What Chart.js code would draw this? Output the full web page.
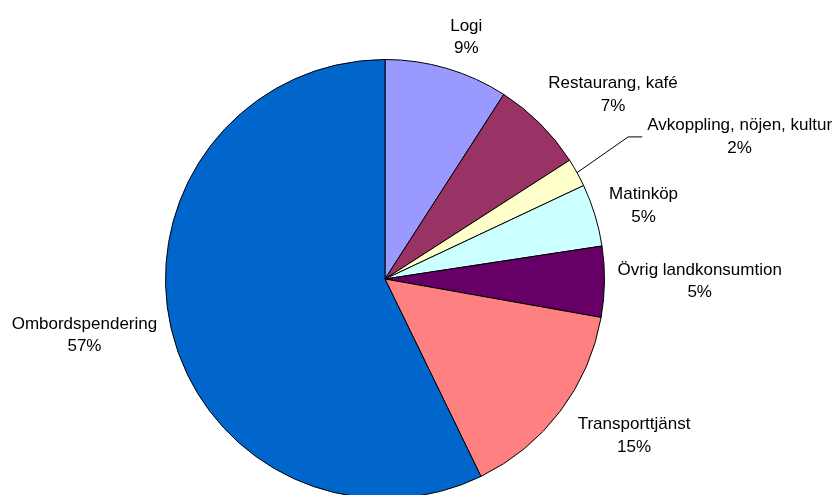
<!DOCTYPE html>
<html>
<head>
<meta charset="utf-8">
<script src="https://cdn.jsdelivr.net/npm/chart.js@4"></script>
<style>
  html, body { margin: 0; padding: 0; background: #fff; overflow: hidden; }
  #wrap { width: 833px; height: 510px; }
</style>
</head>
<body>
<div id="wrap"><canvas id="pie" width="833" height="510"></canvas></div>
<script>
const categories = ['Logi', 'Restaurang, kafé', 'Avkoppling, nöjen, kultur', 'Matinköp', 'Övrig landkonsumtion', 'Transporttjänst', 'Ombordspendering'];
const shares = [9.1, 6.8, 2.1, 4.6, 5.2, 15.0, 57.2];
const sliceColors = ['#9999FF', '#993366', '#FFFFCC', '#CCFFFF', '#660066', '#FF8080', '#0066CC'];

// small hand nudges so labels sit where Excel put them
const labelNudge = [[12, 0], [20, -6], [73, -20], [6, 0], [3, -1], [21, 5], [-6, 0]];
const leaderLines = [false, false, true, false, false, false, false];

const pieLabels = {
  id: 'pieLabels',
  afterDraw(chart) {
    const ctx = chart.ctx;
    const meta = chart.getDatasetMeta(0);
    const data = chart.data.datasets[0].data;
    const total = data.reduce((a, b) => a + b, 0);
    const lineH = 22.5;
    const gap = 10;
    ctx.save();
    ctx.font = '17px "Liberation Sans", Arial, sans-serif';
    ctx.fillStyle = '#000';
    ctx.textAlign = 'center';
    ctx.textBaseline = 'middle';
    meta.data.forEach((arc, i) => {
      const { x, y, startAngle, endAngle, outerRadius } = arc.getProps(['x', 'y', 'startAngle', 'endAngle', 'outerRadius'], true);
      const mid = (startAngle + endAngle) / 2;
      const cos = Math.cos(mid), sin = Math.sin(mid);
      const lines = [chart.data.labels[i], Math.round(data[i] / total * 100) + '%'];
      const w = Math.max(...lines.map(t => ctx.measureText(t).width));
      const h = lineH * 2;
      const ax = x + (outerRadius + gap) * cos;
      const ay = y + (outerRadius + gap) * sin;
      const cx = ax + (w / 2) * cos + labelNudge[i][0];
      const cy = ay + (h / 2) * sin + labelNudge[i][1];
      lines.forEach((t, k) => ctx.fillText(t, cx, cy - lineH / 2 + k * lineH));
      if (leaderLines[i]) {
        const ex = cx - ctx.measureText(lines[0]).width / 2 - 5;
        ctx.beginPath();
        ctx.strokeStyle = '#000';
        ctx.lineWidth = 1;
        ctx.moveTo(x + outerRadius * cos, y + outerRadius * sin);
        ctx.lineTo(ex - 14, cy);
        ctx.lineTo(ex, cy);
        ctx.stroke();
      }
    });
    ctx.restore();
  }
};

new Chart(document.getElementById('pie'), {
  type: 'pie',
  data: {
    labels: categories,
    datasets: [{
      data: shares,
      backgroundColor: sliceColors,
      borderColor: '#000',
      borderWidth: 1,
    }],
  },
  options: {
    responsive: false,
    animation: false,
    layout: { padding: { left: 165, right: 228, top: 59, bottom: 11 } },
    plugins: {
      legend: { display: false },
      tooltip: { enabled: false },
    },
  },
  plugins: [pieLabels],
});
</script>
</body>
</html>
